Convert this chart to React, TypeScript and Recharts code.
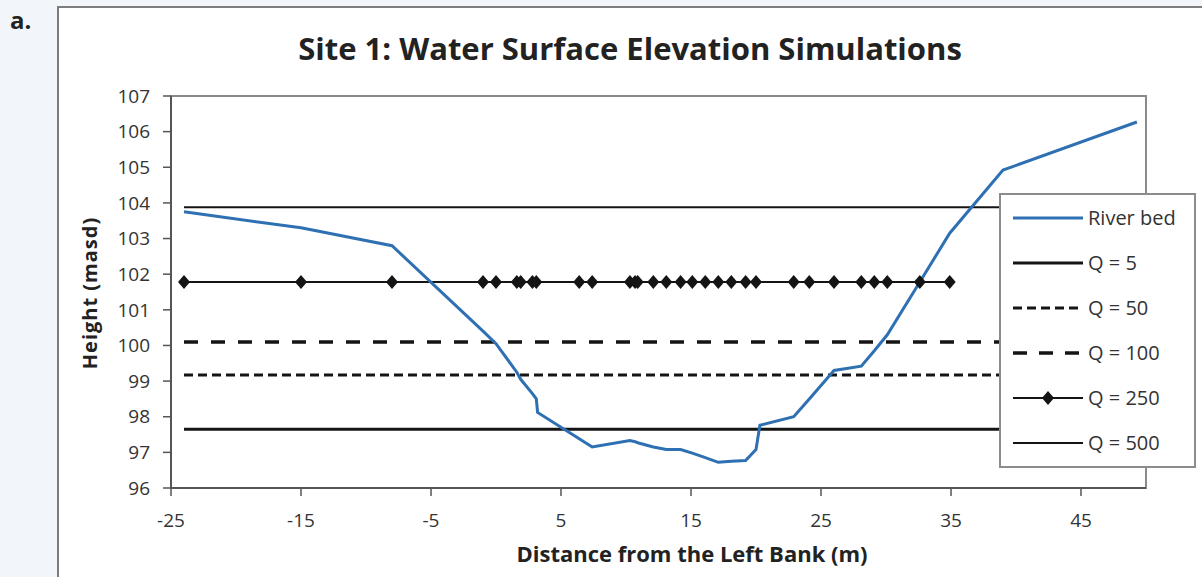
import React from "react";
import { LineChart, Line, XAxis, YAxis, ReferenceArea } from "recharts";

// Cross-section survey: distance from left bank (m) and bed elevation (masd)
const bedDistance = [-24, -15, -8, -1, 0, 1.6, 1.9, 2.8, 3.1, 3.2, 6.4, 7.4, 10.3, 10.7, 10.9, 12.1, 13.1, 14.2, 15.1, 16.1, 17.1, 18.1, 19.2, 20.0, 20.3, 22.9, 24.1, 26.0, 28.1, 29.1, 30.1, 32.6, 34.9, 39.0, 49.3];
const bedHeight = [103.75, 103.3, 102.8, 100.4, 100.05, 99.25, 99.05, 98.65, 98.5, 98.12, 97.38, 97.15, 97.33, 97.3, 97.27, 97.15, 97.08, 97.08, 96.98, 96.85, 96.72, 96.75, 96.77, 97.08, 97.76, 98.0, 98.5, 99.3, 99.42, 99.85, 100.3, 101.78, 103.15, 104.92, 106.27];

// Stations where the Q = 250 profile was computed
const q250Stations = [-24, -15, -8, -1, 0, 1.6, 1.9, 2.8, 3.1, 6.4, 7.4, 10.3, 10.7, 10.9, 12.1, 13.1, 14.2, 15.1, 16.1, 17.1, 18.1, 19.2, 20.0, 22.9, 24.1, 26.0, 28.1, 29.1, 30.1, 32.6, 34.9];

// Simulated water surface elevations per discharge
const flowNames = ["Q = 5", "Q = 50", "Q = 100", "Q = 250", "Q = 500"];
const flowLevels = [97.65, 99.17, 100.1, 101.78, 103.88];
const levelExtent = [-24, 49.3];

const xTicks = [-25, -15, -5, 5, 15, 25, 35, 45];
const yTicks = [96, 97, 98, 99, 100, 101, 102, 103, 104, 105, 106, 107];

const bedData = bedDistance.map((x, i) => ({ x, y: bedHeight[i] }));
const flatLine = (level: number) => levelExtent.map((x) => ({ x, y: level }));
const q250Data = q250Stations.map((x) => ({ x, y: flowLevels[3] }));

const FONT = "'Open Sans', Lato, sans-serif";
const INK = "#141414";
const BLUE = "#2f70b3";

const Diamond = (props: any) => {
  const { cx, cy, index } = props;
  if (cx == null || cy == null) return null;
  const w = 6;
  const h = 7;
  return (
    <polygon
      key={`d-${index}`}
      points={`${cx},${cy - h} ${cx + w},${cy} ${cx},${cy + h} ${cx - w},${cy}`}
      fill={INK}
    />
  );
};

type LegendRow = { label: string; kind: "bed" | "solid" | "dash" | "long" | "marker" | "thin" };
const legendRows: LegendRow[] = [
  { label: "River bed", kind: "bed" },
  { label: flowNames[0], kind: "solid" },
  { label: flowNames[1], kind: "dash" },
  { label: flowNames[2], kind: "long" },
  { label: flowNames[3], kind: "marker" },
  { label: flowNames[4], kind: "thin" },
];

const Sample = ({ kind }: { kind: LegendRow["kind"] }) => {
  const common = { x1: 2, x2: 72, y1: 10, y2: 10 };
  switch (kind) {
    case "bed":
      return <line {...common} stroke={BLUE} strokeWidth={3} />;
    case "solid":
      return <line {...common} stroke={INK} strokeWidth={3} />;
    case "dash":
      return <line {...common} stroke={INK} strokeWidth={3} strokeDasharray="9 5" />;
    case "long":
      return <line {...common} stroke={INK} strokeWidth={3.5} strokeDasharray="14 12" />;
    case "marker":
      return (
        <g>
          <line {...common} stroke={INK} strokeWidth={2} />
          <polygon points="37,3 43,10 37,17 31,10" fill={INK} />
        </g>
      );
    default:
      return <line {...common} stroke={INK} strokeWidth={2} />;
  }
};

const LegendBox = () => (
  <div
    style={{
      position: "absolute",
      left: 999,
      top: 193,
      width: 197,
      height: 275,
      background: "#fff",
      border: "2px solid #8c8c8c",
      boxSizing: "border-box",
      paddingTop: 0,
      paddingLeft: 10,
    }}
  >
    {legendRows.map((r) => (
      <div key={r.label} style={{ display: "flex", alignItems: "center", height: 45 }}>
        <svg width={76} height={20} style={{ flex: "none" }}>
          <Sample kind={r.kind} />
        </svg>
        <span style={{ fontFamily: FONT, fontSize: 20, color: "#333", marginLeft: 1, whiteSpace: "nowrap" }}>
          {r.label}
        </span>
      </div>
    ))}
  </div>
);

export default function App() {
  return (
    <div
      style={{
        position: "absolute",
        left: 0,
        top: 0,
        width: 1202,
        height: 577,
        overflow: "hidden",
        background: "#f2f6fa",
        fontFamily: FONT,
      }}
    >
      <div
        style={{
          position: "absolute",
          left: 57,
          top: 6,
          width: 1170,
          height: 620,
          background: "#fff",
          border: "2px solid #7d7d7d",
        }}
      />
      <div style={{ position: "absolute", left: 0, top: 0 }}>
        <LineChart width={1202} height={577} margin={{ top: 96, right: 56, left: 111, bottom: 49 }}>
          <XAxis
            type="number"
            dataKey="x"
            domain={[-25, 50]}
            ticks={xTicks}
            allowDataOverflow
            height={40}
            tickSize={8}
            tickMargin={18}
            axisLine={{ stroke: "#555", strokeWidth: 2 }}
            tickLine={{ stroke: "#555", strokeWidth: 1.5 }}
            tick={{ fontSize: 19, fill: "#333", fontFamily: FONT }}
          />
          <YAxis
            type="number"
            dataKey="y"
            domain={[96, 107]}
            ticks={yTicks}
            allowDataOverflow
            width={60}
            tickSize={8}
            tickMargin={13}
            axisLine={{ stroke: "#555", strokeWidth: 2 }}
            tickLine={{ stroke: "#555", strokeWidth: 1.5 }}
            tick={{ fontSize: 19, fill: "#333", fontFamily: FONT }}
          />
          <ReferenceArea x1={-25} x2={50} y1={96} y2={107} fill="none" stroke="#8a8a8a" strokeWidth={2} />
          <Line data={flatLine(flowLevels[4])} dataKey="y" stroke={INK} strokeWidth={2} dot={false} isAnimationActive={false} />
          <Line data={flatLine(flowLevels[0])} dataKey="y" stroke={INK} strokeWidth={3} dot={false} isAnimationActive={false} />
          <Line data={flatLine(flowLevels[1])} dataKey="y" stroke={INK} strokeWidth={3} strokeDasharray="9 5" dot={false} isAnimationActive={false} />
          <Line data={flatLine(flowLevels[2])} dataKey="y" stroke={INK} strokeWidth={3.5} strokeDasharray="14 13" dot={false} isAnimationActive={false} />
          <Line data={q250Data} dataKey="y" stroke={INK} strokeWidth={2} dot={Diamond} isAnimationActive={false} />
          <Line data={bedData} dataKey="y" stroke={BLUE} strokeWidth={3} dot={false} isAnimationActive={false} />
        </LineChart>
      </div>
      <LegendBox />
      <svg
        width={1202}
        height={577}
        style={{ position: "absolute", left: 0, top: 0, pointerEvents: "none" }}
      >
        <text x={10} y={29} fontFamily={FONT} fontWeight={700} fontSize={24} fill="#222">
          a.
        </text>
        <text x={630} y={60} textAnchor="middle" fontFamily={FONT} fontWeight={700} fontSize={31} fill="#222">
          Site 1: Water Surface Elevation Simulations
        </text>
        <text
          x={0}
          y={0}
          transform="translate(97 293) rotate(-90)"
          textAnchor="middle"
          fontFamily={FONT}
          fontWeight={700}
          fontSize={20}
          letterSpacing={1}
          fill="#222"
        >
          Height (masd)
        </text>
        <text x={692} y={562} textAnchor="middle" fontFamily={FONT} fontWeight={700} fontSize={22} fill="#222">
          Distance from the Left Bank (m)
        </text>
      </svg>
    </div>
  );
}
